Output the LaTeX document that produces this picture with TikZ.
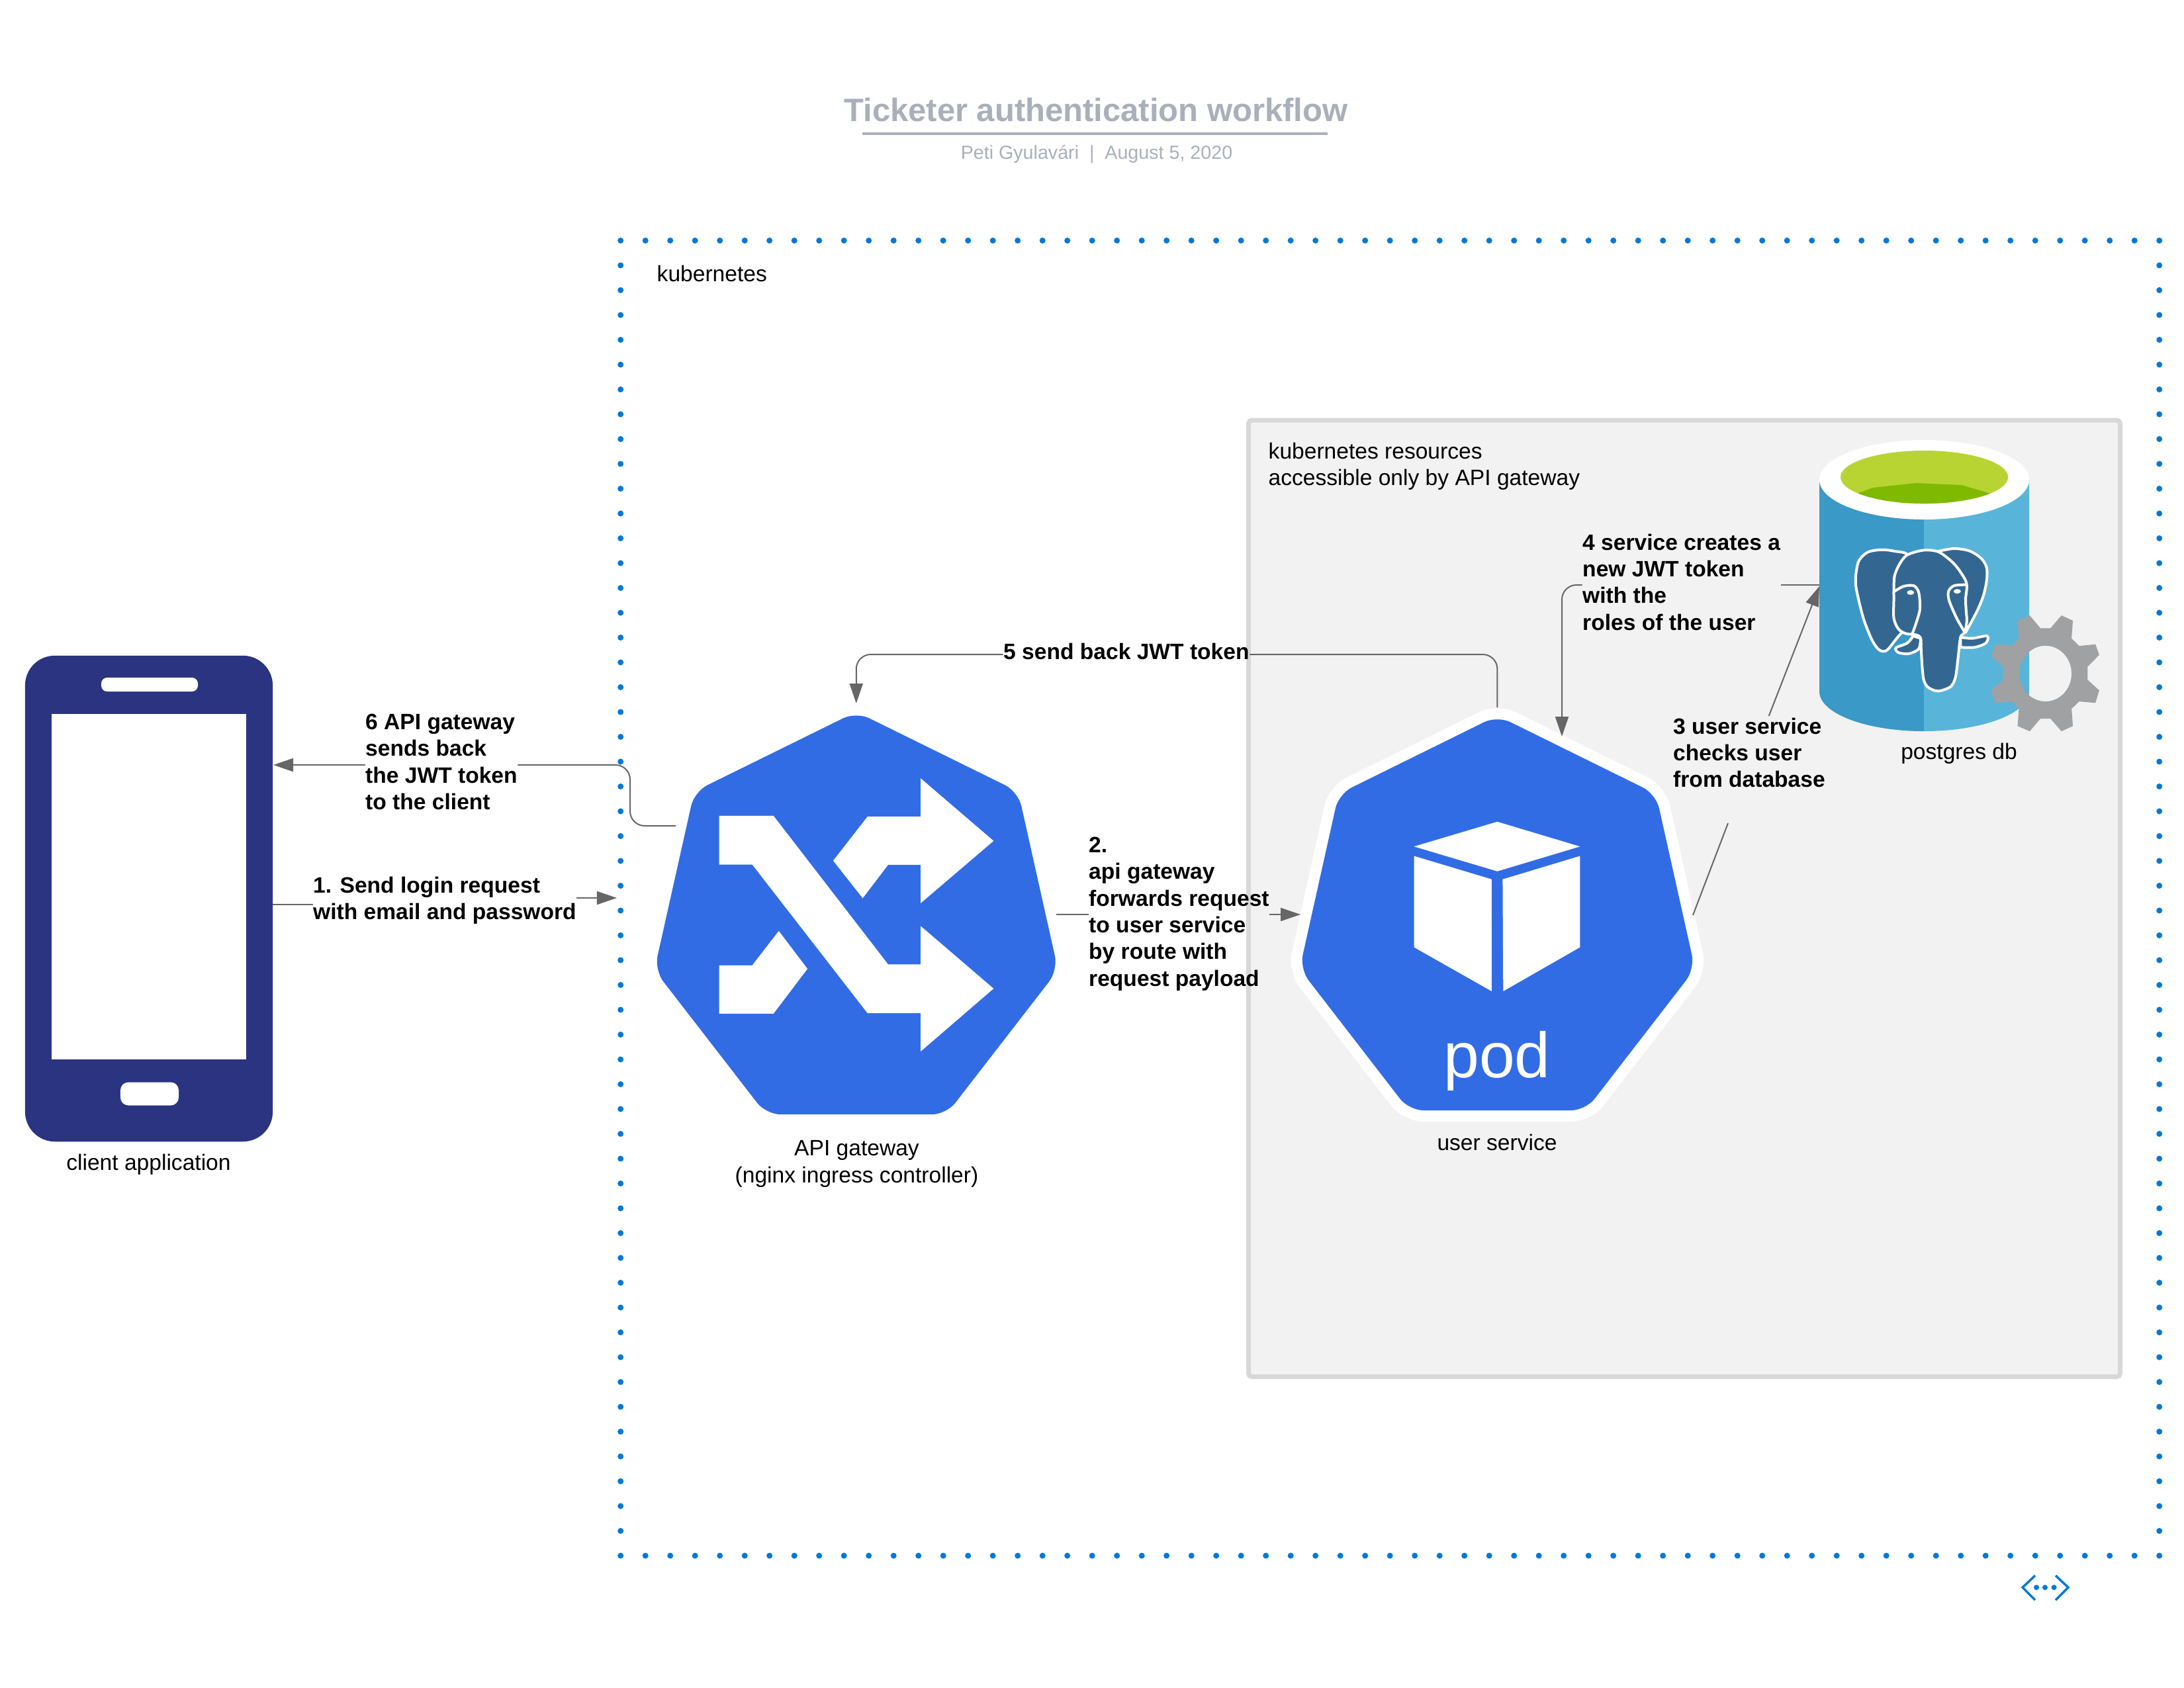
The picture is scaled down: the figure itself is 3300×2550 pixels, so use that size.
\documentclass[tikz,border=0pt]{standalone}
\usepackage{fontspec}
\setmainfont{Liberation Sans}
\usetikzlibrary{arrows.meta}
\definecolor{KubeBlue}{RGB}{50,108,229}
\definecolor{PhoneNavy}{RGB}{42,52,128}
\definecolor{DotBlue}{RGB}{0,120,215}
\definecolor{TitleGray}{RGB}{169,176,186}
\definecolor{LinkGray}{RGB}{102,102,102}
\definecolor{BoxFill}{RGB}{242,242,242}
\definecolor{BoxEdge}{RGB}{216,216,216}
\definecolor{DbDark}{RGB}{58,153,198}
\definecolor{DbLight}{RGB}{89,180,217}
\definecolor{TopLight}{RGB}{184,212,50}
\definecolor{TopDark}{RGB}{127,186,0}
\definecolor{ElephantBlue}{RGB}{51,103,145}
\definecolor{GearGray}{RGB}{160,161,162}
\tikzset{
  link/.style={draw=LinkGray,line width=0.02cm,rounded corners=0.22cm},
  arrowed/.style={-{Triangle[length=0.3cm,width=0.2cm]}},
  step label/.style={font=\fontsize{9.55}{11.5}\selectfont\bfseries,align=left,inner sep=0pt,
    anchor=north west,execute at begin node=\strut},
  plain label/.style={font=\fontsize{9.55}{11.5}\selectfont,align=center,inner sep=0pt,anchor=base},
  note label/.style={font=\fontsize{9.55}{11.5}\selectfont,align=left,inner sep=0pt,
    anchor=north west,execute at begin node=\strut},
  phone part/.style={fill=white,inner sep=0pt,minimum width=#1},
  elephant/.style={fill=ElephantBlue,draw=white,line width=0.04cm,line join=round},
}

\begin{document}
\begin{tikzpicture}[x=0.01cm,y=-0.01cm]
\useasboundingbox (0,0) rectangle (3300,2550);
\fill[white] (0,0) rectangle (3300,2550);

\node[font=\fontsize{13.93}{16}\selectfont\bfseries,text=TitleGray,anchor=base,inner sep=0pt] (title) at (1656,183) {Ticketer authentication workflow};
\coordinate (rule1) at (1303,202);
\coordinate (rule2) at (2006,202);
\draw[TitleGray,line width=0.04cm] (rule1)--(rule2);
\node[font=\fontsize{8.15}{10}\selectfont,text=TitleGray,anchor=base,inner sep=0pt] (subtitle) at (1657,240) {Peti Gyulavári\ \ |\ \ August 5, 2020};

\foreach \i in {0,...,62} {
  \fill[DotBlue] (937.7+37.5*\i,363.5) circle (0.045cm);
  \fill[DotBlue] (937.7+37.5*\i,2351) circle (0.045cm);
}
\foreach \i in {1,...,52} {
  \fill[DotBlue] (937.7,363.5+37.5*\i) circle (0.045cm);
  \fill[DotBlue] (3262.7,363.5+37.5*\i) circle (0.045cm);
}
\node[note label] (k8s) at (992,396) {kubernetes};
\coordinate (net1) at (3075,2381);
\coordinate (net2) at (3056,2399);
\coordinate (net3) at (3075,2418);
\coordinate (net4) at (3106,2381);
\coordinate (net5) at (3125,2399);
\coordinate (net6) at (3106,2418);
\draw[DotBlue,line width=0.035cm] (net1)--(net2)--(net3);
\draw[DotBlue,line width=0.035cm] (net4)--(net5)--(net6);
\fill[DotBlue] (3077,2399) circle (0.04cm) (3090,2399) circle (0.04cm) (3103.5,2399) circle (0.04cm);

\draw[draw=BoxEdge,fill=BoxFill,line width=0.07cm,rounded corners=0.05cm] (1886.5,635) rectangle (3203.5,2080.5);
\node[note label] (reslabel) at (1916,668) {kubernetes resources\\accessible only by API gateway};

\node[fill=PhoneNavy,rounded corners=0.45cm,minimum width=3.74cm,minimum height=7.34cm,inner sep=0pt] (phone) at (225,1358) {};
\node[phone part=2.94cm,minimum height=5.22cm] (screen) at (225,1340) {};
\node[phone part=1.46cm,minimum height=0.21cm,rounded corners=0.09cm] (speaker) at (226,1034.5) {};
\node[phone part=0.88cm,minimum height=0.35cm,rounded corners=0.12cm] (homekey) at (226,1653) {};
\node[plain label] (phonelabel) at (224.5,1768) {client application};

\coordinate (gw1) at (1293.75,1075.7);
\coordinate (gw2) at (1538.4,1196.25);
\coordinate (gw3) at (1598.7,1465.9);
\coordinate (gw4) at (1429.9,1684.2);
\coordinate (gw5) at (1157.6,1684.2);
\coordinate (gw6) at (988.8,1465.9);
\coordinate (gw7) at (1049.1,1196.25);
\fill[KubeBlue,rounded corners=0.22cm] (gw1)--(gw2)--(gw3)--(gw4)--(gw5)--(gw6)--(gw7)--cycle;
\begin{scope}[shift={(950,1040)},scale=0.4464]
\fill[white] (306,432)--(490,432)--(878,935)--(988,935)--(988,805)--(1235,1017)--(988,1230)--(988,1100)--(808,1100)--(418,597)--(306,597)--cycle;
\fill[white] (692,584)--(808,435)--(988,435)--(988,305)--(1235,517)--(988,728)--(988,598)--(878,598)--(792,711)--cycle;
\fill[white] (306,938)--(418,938)--(508,822)--(605,950)--(490,1102)--(306,1102)--cycle;
\end{scope}
\node[plain label] (gwlabel) at (1294.5,1787) {API gateway\\(nginx ingress controller)};

\coordinate (pod1) at (2262.4,1081.5);
\coordinate (pod2) at (2502.1,1199.8);
\coordinate (pod3) at (2561.1,1464.1);
\coordinate (pod4) at (2395.9,1678);
\coordinate (pod5) at (2128.9,1678);
\coordinate (pod6) at (1963.8,1464.1);
\coordinate (pod7) at (2022.7,1199.8);
\draw[draw=white,fill=KubeBlue,line width=0.34cm,line join=round,rounded corners=0.22cm] (pod1)--(pod2)--(pod3)--(pod4)--(pod5)--(pod6)--(pod7)--cycle;
\fill[KubeBlue,rounded corners=0.22cm] (pod1)--(pod2)--(pod3)--(pod4)--(pod5)--(pod6)--(pod7)--cycle;
\begin{scope}[shift={(1920,1040)},scale=0.4464]
\fill[white] (767,452)--(1047,536)--(767,620)--(485,536)--cycle;
\fill[white] (485,568)--(748,647)--(748,1026)--(485,877)--cycle;
\fill[white] (785,647)--(1047,568)--(1047,877)--(787,1026)--cycle;
\end{scope}
\node[font=\fontsize{27.5}{30}\selectfont,text=white,anchor=base,inner sep=0pt] (podname) at (2262,1628) {pod};
\node[plain label] (podlabel) at (2262,1738) {user service};

\fill[DbDark] (2749,725)--(2749,1045) arc[start angle=180,end angle=270,x radius=1.58cm,y radius=0.6cm]--(2907,725)--cycle;
\fill[DbLight] (2907,725)--(2907,1105) arc[start angle=270,end angle=360,x radius=1.59cm,y radius=0.6cm]--(3066,725)--cycle;
\fill[white] (2907.5,725) circle[x radius=1.585cm,y radius=0.6cm];
\fill[TopLight] (2907.5,721) circle[x radius=1.265cm,y radius=0.4cm];
\begin{scope}
\clip (2907.5,721) circle[x radius=1.265cm,y radius=0.4cm];
\fill[TopDark] (2808,745)--(2830,737)--(2895,730)--(2964,733)--(3008,746)--(3008,790)--(2808,790)--cycle;
\end{scope}
\begin{scope}[shift={(2650,620)},x=0.003827cm,y=-0.003571cm]
\draw[elephant] plot[smooth] coordinates {(640,680) (605,610) (560,597) (505,590) (450,600) (415,635) (403,690) (402,740) (415,810) (435,890) (465,970) (490,1010) (510,1020) (530,1010) (580,945) (640,900)}--cycle;
\draw[elephant] plot[smooth] coordinates {(725,597) (790,585) (850,595) (895,625) (918,665) (918,720) (905,785) (880,850) (835,940)}--(780,800)--cycle;
\draw[elephant] plot[smooth] coordinates {(628,955) (605,985) (560,1005) (570,1025) (610,1030) (650,1010) (658,965)}--cycle;
\draw[elephant] plot[smooth] coordinates {(815,960) (860,965) (920,955) (915,985) (870,1003) (815,1003)}--cycle;
\draw[elephant] plot[smooth cycle] coordinates {(605,612) (670,592) (730,600) (790,650) (830,710) (840,745) (835,800) (838,860) (840,890) (832,940) (815,960) (805,1050) (795,1130) (775,1170) (725,1188) (685,1170) (668,1130) (660,1020) (658,965) (640,950) (600,945) (570,925) (552,880) (552,800) (552,760) (555,700) (575,650)};
\draw[draw=white,line width=0.04cm] plot[smooth] coordinates {(552,768) (590,745) (630,742) (650,770) (655,840) (640,900) (625,945)};
\draw[draw=white,line width=0.04cm] plot[smooth] coordinates {(838,738) (790,742) (768,765) (770,805) (800,880) (832,940)};
\fill[white] (618,771) circle[x radius=0.055cm,y radius=0.035cm] (802,766) circle[x radius=0.055cm,y radius=0.035cm];
\fill[GearGray,even odd rule] (1040,890)--(1088,868)--(1130,922)--(1170,922)--(1213,868)--(1258,890)--(1253,965)--(1283,997)--(1347,990)--(1362,1035)--(1316,1085)--(1316,1140)--(1362,1185)--(1347,1238)--(1283,1232)--(1253,1263)--(1258,1336)--(1213,1358)--(1170,1305)--(1130,1305)--(1088,1358)--(1040,1336)--(1045,1263)--(1018,1232)--(952,1238)--(935,1185)--(983,1140)--(983,1085)--(935,1040)--(952,990)--(1018,995)--(1045,965)--cycle (1150,1114) circle[x radius=0.394cm,y radius=0.421cm];
\end{scope}
\node[plain label] (dblabel) at (2960,1147.5) {postgres db};

\node[step label] (lab1) at (472.5,1324) {1. Send login request\\with email and password};
\node[step label] (lab2) at (1644.5,1264) {2.\\api gateway\\forwards request\\to user service\\by route with\\request payload};
\node[step label] (lab3) at (2527.5,1084) {3 user service\\checks user\\from database};
\node[step label] (lab4) at (2390.5,806) {4 service creates a\\new JWT token\\with the\\roles of the user};
\node[step label] (lab5) at (1515.5,967) {5 send back JWT token};
\node[step label] (lab6) at (551.5,1078) {6 API gateway\\sends back\\the JWT token\\to the client};

\coordinate (phoneout) at (412,1367);
\coordinate (k8sin) at (932,1357);
\draw[link] (phoneout)--(lab1.west |- phoneout);
\draw[link,arrowed] (lab1.east |- k8sin)--(k8sin);

\coordinate (gwright) at (1596,1382);
\coordinate (podleft) at (1965,1382);
\draw[link] (gwright)--(lab2.west |- gwright);
\draw[link,arrowed] (lab2.east |- podleft)--(podleft);

\coordinate (podright) at (2558,1383);
\coordinate (dbleft) at (2749,886);
\coordinate (cut3a) at (2611,1244);
\coordinate (cut3b) at (2672.7,1082);
\draw[link] (podright)--(cut3a);
\draw[link,arrowed] (cut3b)--(dbleft);

\coordinate (dbout) at (2749,884);
\coordinate (podin) at (2360,1113);
\draw[link] (dbout)--(lab4.east |- dbout);
\draw[link,arrowed] (lab4.west |- dbout) -| (podin);

\coordinate (podtop) at (2262.4,1069);
\coordinate (gwtop) at (1293.75,1063);
\coordinate (turn5) at (1294,989);
\draw[link] (podtop) |- (lab5.east |- turn5);
\draw[link,arrowed] (lab5.west |- turn5) -| (gwtop);

\coordinate (gwleft) at (1021,1248);
\coordinate (turn6) at (952,1156);
\coordinate (phonein) at (413,1156);
\draw[link] (gwleft) -| (turn6)--(lab6.east |- turn6);
\draw[link,arrowed] (lab6.west |- phonein)--(phonein);
\end{tikzpicture}
\end{document}
